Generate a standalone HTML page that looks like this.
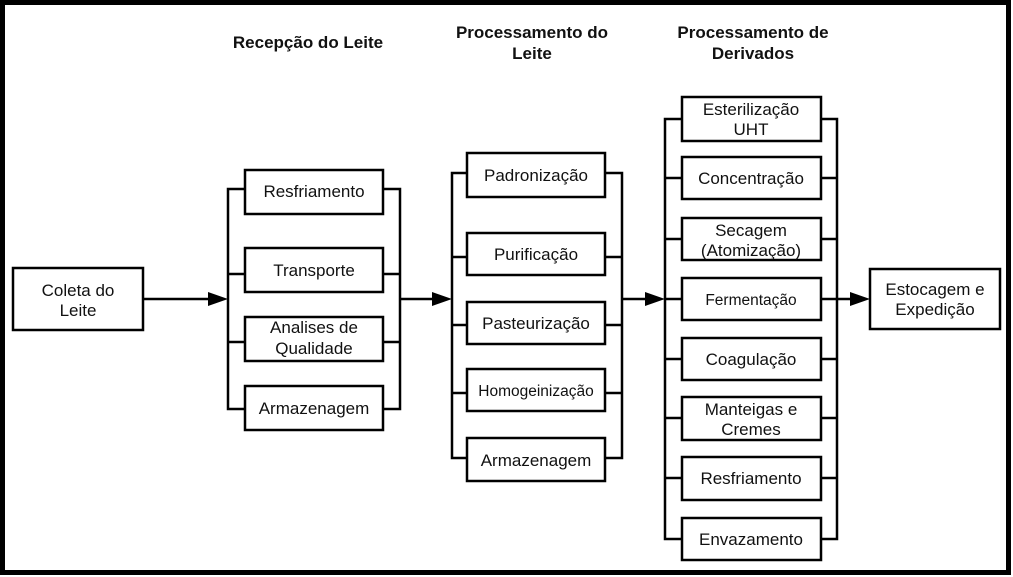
<!DOCTYPE html>
<html><head><meta charset="utf-8"><style>
html,body{margin:0;padding:0;background:#fff;}
svg{display:block;}
text{font-family:"Liberation Sans",Arial,sans-serif;font-size:17px;fill:#111;text-anchor:middle;}
.h{font-weight:bold;font-size:17px;}
.s{font-size:15.5px;}
</style></head><body>
<svg width="1013" height="577" viewBox="0 0 1013 577" xmlns="http://www.w3.org/2000/svg">
<rect x="2.5" y="2.5" width="1006" height="570" fill="#fff" stroke="#000" stroke-width="5"/>
<g fill="none" stroke="#000" stroke-width="2.5">
<rect x="13" y="268" width="130" height="62"/>
<line x1="143" y1="299" x2="212" y2="299"/>
<polyline points="245,189 228,189 228,409 245,409"/>
<line x1="228" y1="274" x2="245" y2="274"/><line x1="228" y1="342" x2="245" y2="342"/>
<polyline points="383,189 400,189 400,409 383,409"/>
<line x1="383" y1="274" x2="400" y2="274"/><line x1="383" y1="342" x2="400" y2="342"/>
<rect x="245" y="170" width="138" height="44"/>
<rect x="245" y="248" width="138" height="44"/>
<rect x="245" y="317" width="138" height="44"/>
<rect x="245" y="386" width="138" height="44"/>
<line x1="400" y1="299" x2="436" y2="299"/>
<polyline points="467,173 452,173 452,458 467,458"/>
<line x1="452" y1="257" x2="467" y2="257"/><line x1="452" y1="325" x2="467" y2="325"/><line x1="452" y1="393" x2="467" y2="393"/>
<polyline points="605,173 622,173 622,458 605,458"/>
<line x1="605" y1="257" x2="622" y2="257"/><line x1="605" y1="325" x2="622" y2="325"/><line x1="605" y1="393" x2="622" y2="393"/>
<rect x="467" y="153" width="138" height="44"/>
<rect x="467" y="233" width="138" height="42"/>
<rect x="467" y="302" width="138" height="42"/>
<rect x="467" y="369" width="138" height="42"/>
<rect x="467" y="438" width="138" height="43"/>
<line x1="622" y1="299" x2="650" y2="299"/>
<polyline points="682,119 665,119 665,539 682,539"/>
<polyline points="821,119 837,119 837,539 821,539"/>
<line x1="665" y1="178" x2="682" y2="178"/><line x1="665" y1="239" x2="682" y2="239"/><line x1="665" y1="299" x2="682" y2="299"/>
<line x1="665" y1="359" x2="682" y2="359"/><line x1="665" y1="418" x2="682" y2="418"/><line x1="665" y1="478" x2="682" y2="478"/>
<line x1="821" y1="178" x2="837" y2="178"/><line x1="821" y1="239" x2="837" y2="239"/><line x1="821" y1="299" x2="837" y2="299"/>
<line x1="821" y1="359" x2="837" y2="359"/><line x1="821" y1="418" x2="837" y2="418"/><line x1="821" y1="478" x2="837" y2="478"/>
<rect x="682" y="97" width="139" height="44"/>
<rect x="682" y="157" width="139" height="42"/>
<rect x="682" y="218" width="139" height="42"/>
<rect x="682" y="278" width="139" height="42"/>
<rect x="682" y="338" width="139" height="42"/>
<rect x="682" y="397" width="139" height="43"/>
<rect x="682" y="457" width="139" height="43"/>
<rect x="682" y="518" width="139" height="42"/>
<line x1="837" y1="299" x2="854" y2="299"/>
<rect x="870" y="269" width="130" height="60"/>
</g>
<g fill="#000">
<polygon points="208,292 228,299 208,306"/>
<polygon points="432,292 452,299 432,306"/>
<polygon points="645,292 665,299 645,306"/>
<polygon points="850,292 870,299 850,306"/>
</g>
<text class="h" x="308" y="48">Recepção do Leite</text>
<text class="h" x="532" y="38">Processamento  do</text>
<text class="h" x="532" y="59">Leite</text>
<text class="h" x="753" y="38">Processamento  de</text>
<text class="h" x="753" y="59">Derivados</text>
<text x="78" y="296">Coleta do</text><text x="78" y="316">Leite</text>
<text x="314" y="197">Resfriamento</text>
<text x="314" y="276">Transporte</text>
<text x="314" y="333">Analises de</text><text x="314" y="354">Qualidade</text>
<text x="314" y="414">Armazenagem</text>
<text x="536" y="181">Padronização</text>
<text x="536" y="260">Purificação</text>
<text x="536" y="329">Pasteurização</text>
<text x="536" y="396" class="s">Homogeinização</text>
<text x="536" y="466">Armazenagem</text>
<text x="751" y="115">Esterilização</text><text x="751" y="135">UHT</text>
<text x="751" y="184">Concentração</text>
<text x="751" y="236">Secagem</text><text x="751" y="256">(Atomização)</text>
<text x="751" y="305" class="s">Fermentação</text>
<text x="751" y="365">Coagulação</text>
<text x="751" y="415">Manteigas e</text><text x="751" y="435">Cremes</text>
<text x="751" y="484">Resfriamento</text>
<text x="751" y="545">Envazamento</text>
<text x="935" y="295">Estocagem e</text><text x="935" y="315">Expedição</text>
</svg>
</body></html>
